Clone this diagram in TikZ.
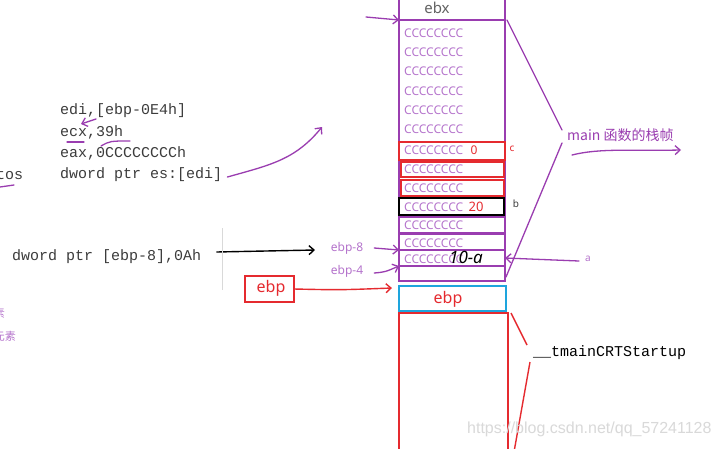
\documentclass[tikz,border=0pt]{standalone}
\usepackage{fontspec}
\setmainfont{Noto Sans}
\newfontfamily\cjkfont{Noto Sans CJK SC}
\newfontfamily\monofont{Liberation Mono}
\newfontfamily\wmfont{Liberation Sans}
\usetikzlibrary{arrows.meta}
\definecolor{pur}{HTML}{9A3DB0}
\definecolor{lpur}{HTML}{B574CC}
\definecolor{rd}{HTML}{E52A2F}
\definecolor{bl}{HTML}{1EA5DD}
\definecolor{codegray}{HTML}{3C3C3C}
\begin{document}
\begin{tikzpicture}[x=1pt,y=-1pt,
  cell/.style={draw, inner sep=0pt, outer sep=0pt},
  ccc/.style={anchor=west, inner sep=0pt, text=lpur, font=\fontsize{12}{12}\selectfont},
  code/.style={anchor=west, inner sep=0pt, text=codegray, font=\monofont\fontsize{15}{15}\selectfont},
  small/.style={inner sep=0pt, font=\fontsize{10}{10}\selectfont},
  pen/.style={pur, line width=1.3pt, line cap=round},
  openhead/.style={-{Straight Barb[length=5pt,width=9pt]}},
]
\useasboundingbox (0,0) rectangle (717,448);
\clip (0,0) rectangle (717,448);
\fill[white] (0,0) rectangle (717,448);

% stack column
\node[cell, pur, line width=1.3pt, minimum width=106pt, minimum height=22pt] (ebx) at (452,9) {};
\node[inner sep=0pt, text=codegray!80, font=\fontsize{15}{15}\selectfont] (ebxt) at (437,8) {ebx};
\draw[pur, line width=2.5pt] (ebx.south west) -- (ebx.south east);
\node[cell, pur, line width=1.5pt, minimum width=106pt, minimum height=261pt] (frame) at (452,150.5) {};
\node[cell, rd, line width=1.5pt, minimum width=106pt, minimum height=18pt] (cbox) at (452,151) {};
\node[cell, rd, line width=1.5pt, minimum width=103pt, minimum height=15pt] (r2) at (452.5,169.5) {};
\node[cell, rd, line width=1.5pt, minimum width=103pt, minimum height=16pt] (r3) at (452.5,188) {};
\node[cell, black, line width=2pt, minimum width=105pt, minimum height=17pt] (bbox) at (451.5,206.5) {};
\node[cell, pur, line width=1.5pt, minimum width=106pt, minimum height=16pt] (p1) at (452,225) {};
\node[cell, pur, line width=1.5pt, minimum width=106pt, minimum height=16pt] (p2) at (452,242) {};
\node[cell, pur, line width=2.5pt, minimum width=106pt, minimum height=16pt] (p3) at (452,258) {};
\node[cell, pur, line width=1.5pt, minimum width=106pt, minimum height=15pt] (p4) at (452,273.5) {};
\node[cell, bl, line width=1.5pt, minimum width=107pt, minimum height=25pt] (blue) at (452.5,298.5) {};
\node[inner sep=0pt, text=rd, font=\fontsize{16}{16}\selectfont] (bluet) at (448,299) {ebp};
\node[cell, rd, line width=1.5pt, minimum width=109pt, minimum height=139pt] (caller) at (453.5,382.5) {};

% CCCCCCCC contents
\foreach \y [count=\i] in {33,52,71,91,110,129,150,169,188,207,225,243,259}
  \node[ccc] (cc\i) at (404,\y) {CCCCCCCC};
\node[inner sep=0pt, text=rd, font=\fontsize{12}{12}\selectfont] (zero) at (474,150) {0};
\node[inner sep=0pt, text=rd, font=\fontsize{13}{13}\selectfont] (twenty) at (476,207) {20};
\node[inner sep=0pt, font=\itshape\bfseries\fontsize{17}{17}\selectfont] (tena) at (466,257) {10-a};

% side labels
\node[small, text=rd] (lc) at (512,149) {c};
\node[small, text=codegray] (lb) at (516,204) {b};
\node[small, text=lpur] (la) at (588,259) {a};
\draw[pen] ([xshift=2pt]ebx.south east) -- (562,130);
\draw[pen] (562,143) -- ([shift={(1,-4)}]frame.south east);
\node[anchor=west, inner sep=0pt, text=pur, font=\cjkfont\fontsize{14}{14}\selectfont] (mainlbl) at (567,135) {main 函数的栈帧};
\coordinate (mw1) at (572,155);
\coordinate (mw2) at (681,150);
\draw[pen, openhead] (mw1) .. controls (600,148) and (630,151) .. (mw2);
\draw[pen, openhead] ([shift={(-6,2)}]la.west) -- (p3.east);

% top arrow to ebx
\coordinate (ebxa) at (366,17);
\draw[pen, openhead] (ebxa) -- (ebx.south west);

% ebp-8 / ebp-4
\node[inner sep=0pt, text=lpur, font=\fontsize{12}{12}\selectfont] (e8) at (347,248) {ebp-8};
\node[inner sep=0pt, text=lpur, font=\fontsize{12}{12}\selectfont] (e4) at (347,271) {ebp-4};
\draw[pen, openhead] ([xshift=11pt]e8.east) .. controls (385,249) .. (p3.north west);
\draw[pen, openhead] ([shift={(11,2)}]e4.east) .. controls (385,272) .. (p3.south west);

% code
\node[code] (l1) at (60,111) {edi,[ebp-0E4h]};
\node[code] (l2) at (60,132) {ecx,39h};
\node[code] (l3) at (60,153) {eax,0CCCCCCCCh};
\node[code] (l4) at (60,175) {dword ptr es:[edi]};
\node[code] (tos) at (-4,175) {tos};
\node[code] (mov) at (12,257) {dword ptr [ebp-8],0Ah};
\node[anchor=west, inner sep=0pt, text=black, font=\monofont\fontsize{15}{15}\selectfont] (crt) at (533,353) {\_\_tmainCRTStartup};

% handwritten marks on code
\draw[pen, openhead] (96,119) -- (81,124);
\draw[pen] (67,142) -- (84,142);
\draw[pen] (101,146) .. controls (110,141) .. (130,141);
\draw[pen] (0,187) -- (14,185);
\coordinate (pa) at (322,127);
\draw[pen, openhead] ([shift={(5,2)}]l4.east) .. controls (270,165) and (295,160) .. (pa);

% black arrow
\draw[black, line width=1.4pt, openhead] ([shift={(15,-5)}]mov.east) -- (315,250);
\draw[black!15, line width=0.6pt] (222,228) -- (222,290);

% ebp box
\node[cell, rd, line width=1.5pt, minimum width=49pt, minimum height=26pt] (ebpbox) at (269.5,289) {};
\node[inner sep=0pt, text=rd, font=\fontsize{16}{16}\selectfont] (ebpt) at (271,288) {ebp};
\draw[rd, line width=1.4pt, openhead] (ebpbox.east) .. controls (340,290) .. (392,288);

% caller frame bracket
\draw[rd, line width=1.4pt] ([xshift=3pt]caller.north east) -- (527,345);
\draw[rd, line width=1.4pt] (530,362) -- (514,452);

% left cut-off text
\node[anchor=east, inner sep=0pt, text=lpur, font=\cjkfont\fontsize{11}{11}\selectfont] (el1) at (5,313) {素};
\node[anchor=east, inner sep=0pt, text=lpur, font=\cjkfont\fontsize{11}{11}\selectfont] (el2) at (16,336) {元素};

% watermark
\node[anchor=west, inner sep=0pt, text=black!15, font=\wmfont\fontsize{16}{16}\selectfont] (wm) at (467,429) {https://blog.csdn.net/qq\_57241128};
\end{tikzpicture}
\end{document}
